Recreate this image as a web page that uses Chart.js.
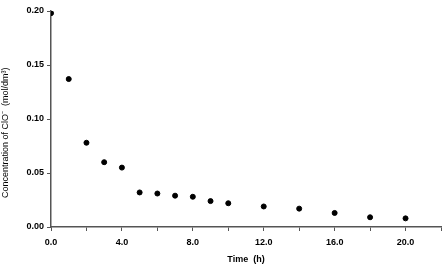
<!DOCTYPE html>
<html>
<head>
<meta charset="utf-8">
<script src="https://cdn.jsdelivr.net/npm/chart.js@4"></script>
<style>
  html, body { margin: 0; padding: 0; background: #fff; }
  #wrap { width: 447px; height: 266px; }
</style>
</head>
<body>
<div id="wrap"><canvas id="concChart"></canvas></div>
<script>
// time in hours and ClO- concentration in mol/dm3
const timeHours = [0, 1, 2, 3, 4, 5, 6, 7, 8, 9, 10, 12, 14, 16, 18, 20];
const concentration = [0.198, 0.137, 0.078, 0.060, 0.055, 0.032, 0.031, 0.029, 0.028, 0.024, 0.022, 0.019, 0.017, 0.013, 0.009, 0.008];
const xTickLabels = ['0.0', '4.0', '8.0', '12.0', '16.0', '20.0'];

const points = timeHours.map((t, i) => ({ x: t, y: concentration[i] }));

const ctx = document.getElementById('concChart').getContext('2d');
new Chart(ctx, {
    type: 'scatter',
    data: {
        datasets: [{
            data: points,
            backgroundColor: '#000',
            borderColor: '#000',
            pointRadius: 2.5,
            pointHoverRadius: 2.5
        }]
    },
    options: {
        responsive: true,
        maintainAspectRatio: false,
        animation: false,
        layout: { padding: { top: 11, right: 4, left: 0, bottom: 0 } },
        plugins: {
            legend: { display: false },
            tooltip: { enabled: false }
        },
        scales: {
            x: {
                type: 'linear',
                min: 0,
                max: 22,
                afterBuildTicks: (scale) => {
                    const t = [];
                    for (let v = 0; v <= 22; v += 2) t.push({ value: v });
                    scale.ticks = t;
                },
                afterFit: (scale) => { scale.height = 39; },
                border: { display: true, color: '#555', width: 1.5 },
                grid: { drawOnChartArea: false, drawTicks: true, tickLength: 4, color: '#555' },
                ticks: {
                    autoSkip: false,
                    maxRotation: 0,
                    padding: 6,
                    color: '#000',
                    font: { family: 'Arial, "Liberation Sans"', size: 9, weight: 'bold' },
                    callback: function(value) {
                        const i = xTickLabels.indexOf(value.toFixed(1));
                        return i >= 0 ? xTickLabels[i] : '';
                    }
                },
                title: {
                    display: true,
                    text: 'Time  (h)',
                    color: '#000',
                    padding: { top: 0, bottom: 1 },
                    font: { family: 'Arial, "Liberation Sans"', size: 9, weight: 'bold' }
                }
            },
            y: {
                min: 0,
                max: 0.2,
                afterFit: (scale) => { scale.width = 51; },
                border: { display: true, color: '#555', width: 1.5 },
                grid: { drawOnChartArea: false, drawTicks: true, tickLength: 4, color: '#555' },
                ticks: {
                    stepSize: 0.05,
                    padding: 3,
                    color: '#000',
                    font: { family: 'Arial, "Liberation Sans"', size: 9, weight: 'bold' },
                    callback: (value) => value.toFixed(2)
                },
                title: {
                    display: true,
                    // trailing spaces push the centred title down a little, as in the original
                    text: 'Concentration of ClO\u207B  (mol/dm\u00B3)' + '\u00A0'.repeat(11),
                    color: '#000',
                    padding: { top: 0, bottom: 1 },
                    font: { family: 'Arial, "Liberation Sans"', size: 9 }
                }
            }
        }
    }
});
</script>
</body>
</html>
